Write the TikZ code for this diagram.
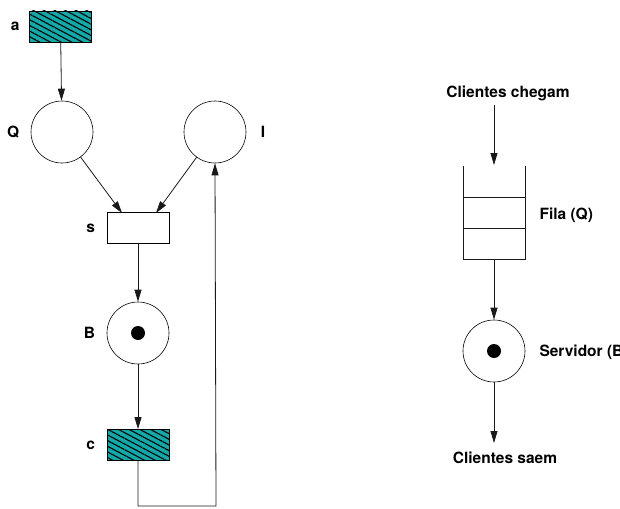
\documentclass[tikz,border=0pt]{standalone}
\usepackage{fontspec}
\setmainfont{TeX Gyre Heros}
\usepackage{tikz}
\usetikzlibrary{arrows.meta, positioning, patterns.meta}
\definecolor{NetTeal}{RGB}{20,168,168}
\definecolor{NetLine}{RGB}{25,25,25}
\tikzset{
    % Places and transitions of the net
    place/.style={
        circle,
        draw=black,
        semithick,
        minimum size=62pt,
        inner sep=0pt
    },
    token/.style={
        circle,
        fill=black,
        minimum size=14pt,
        inner sep=0pt
    },
    transition/.style={
        rectangle,
        draw=black,
        thick,
        minimum width=62pt,
        minimum height=31pt,
        inner sep=0pt
    },
    timed transition/.style={
        transition,
        fill=NetTeal,
        pattern={Lines[angle=-28, distance=5pt, line width=1.1pt]},
        pattern color=black
    },
    net label/.style={
        font=\fontsize{15.5}{18}\selectfont\bfseries
    },
    arrow style/.style={
        -{Triangle[length=12pt, width=7pt]},
        thick,
        NetLine
    },
    line style/.style={
        thick,
        NetLine
    }
}
\begin{document}
\begin{tikzpicture}[x=1pt, y=-1pt]
        \useasboundingbox (0,0) rectangle (620,508);
        \clip (0,0) rectangle (620,508);

        % Petri net (left side)
        \fill[NetTeal] (29,11) rectangle (92,42);
        \node[timed transition] (net-a) at (60.5,26.5) {};
        \node[place] (net-Q) at (62,132) {};
        \node[place] (net-I) at (215,132) {};
        \node[transition] (net-s) at (138,228) {};
        \node[place] (net-B) at (138,333) {};
        \node[token] (net-B-tok) at (net-B) {};
        \fill[NetTeal] (107,429) rectangle (169,461);
        \node[timed transition] (net-c) at (138,445) {};

        \node[net label, left=6pt of net-a] {a};
        \node[net label, left=8pt of net-Q] {Q};
        \node[net label, right=11pt of net-I] {I};
        \node[net label, left=8pt of net-s] {s};
        \node[net label, left=8pt of net-B] {B};
        \node[net label, left=8pt of net-c] {c};

        \coordinate (net-s-in1) at (122,213);
        \coordinate (net-s-in2) at (156,213);
        \coordinate (net-loop) at (216,506);

        \draw[arrow style] (net-a) -- (net-Q);
        \draw[arrow style] (net-Q) -- (net-s-in1);
        \draw[arrow style] (net-I) -- (net-s-in2);
        \draw[arrow style] (net-s) -- (net-B);
        \draw[arrow style] (net-B) -- (net-c);
        \draw[arrow style] (net-c.south) |- (net-loop) -- (net-I.south);

        % Queue and server (right side)
        \node[net label] (q-in) at (508,93) {Clientes chegam};
        \coordinate (q-top) at (494,165);
        \draw[line style] (463,166) -- (463,259) -- (525,259) -- (525,166);
        \draw[line style] (463,197) -- (525,197);
        \draw[line style] (463,228) -- (525,228);
        \coordinate (q-bottom) at (494,259);
        \node[net label, anchor=west] (q-label) at (536,215) {Fila (Q)};

        \node[place] (srv) at (494,351) {};
        \node[token] (srv-tok) at (srv) {};
        \node[net label, anchor=west] (srv-label) at (536,352) {Servidor (B)};
        \node[net label] (q-out) at (505,458) {Clientes saem};
        \coordinate (q-exit) at (494,443);

        \draw[arrow style] (494,105) -- (q-top);
        \draw[arrow style] (q-bottom) -- (srv);
        \draw[arrow style] (srv) -- (q-exit);
    \end{tikzpicture}
\end{document}
